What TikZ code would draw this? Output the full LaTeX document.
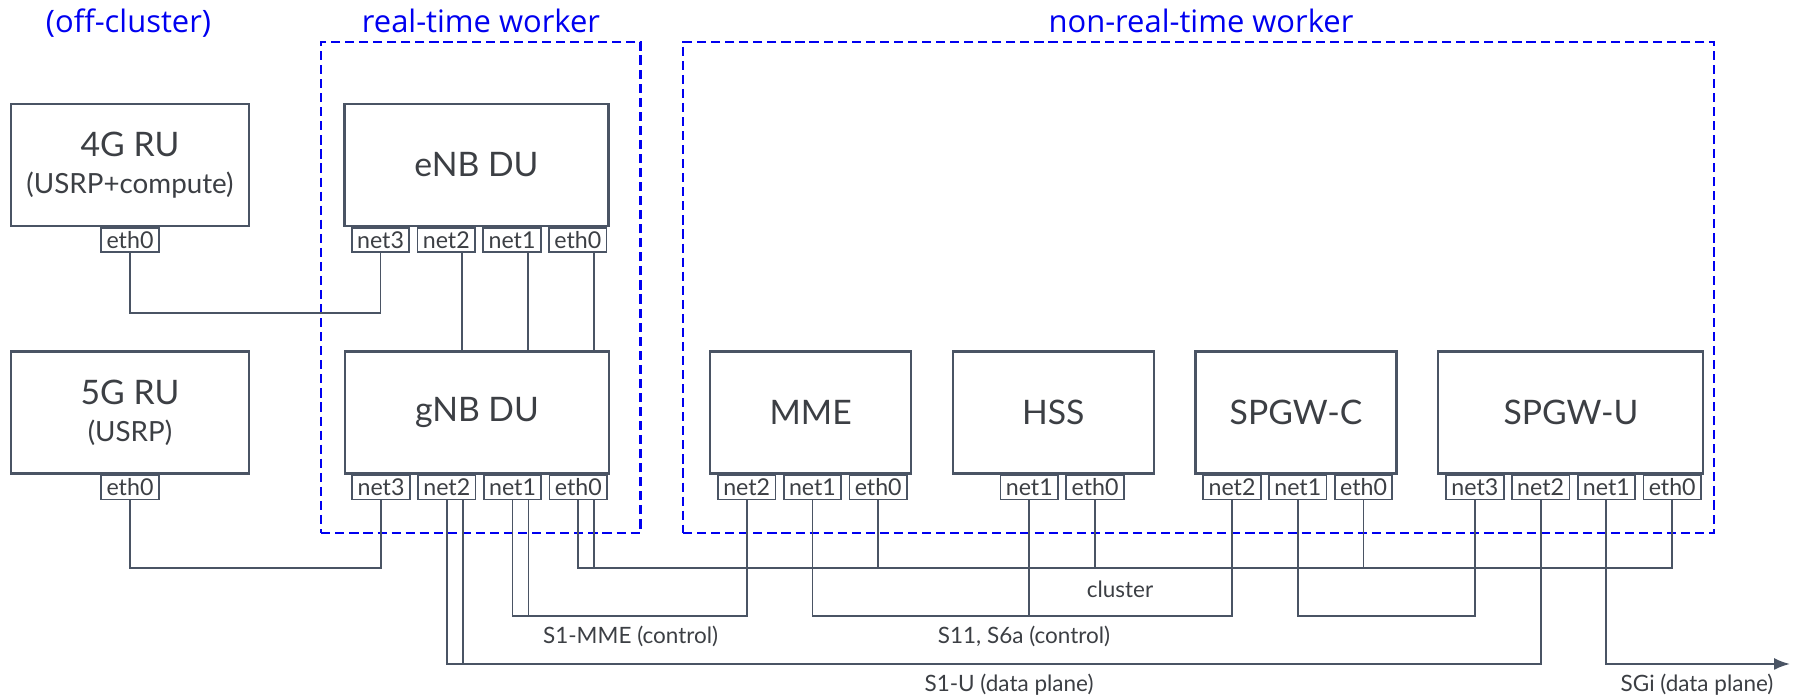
\documentclass[tikz,border=0pt]{standalone}
\usepackage{fontspec}
\setmainfont{Lato}
\newfontfamily\titlefont{Open Sans}
\usepackage{xcolor}
\usepackage{tikz}
\usetikzlibrary{positioning, arrows.meta}
\definecolor{boxline}{HTML}{4A5464}
\definecolor{boxtext}{HTML}{3C3F44}
\definecolor{grouptext}{HTML}{0000F0}

\begin{document}
\begin{tikzpicture}[x=1mm, y=-1mm,
    box/.style={draw=boxline, line width=0.6pt, fill=white, text=boxtext, minimum height=12.2mm, inner sep=0pt, align=center, font=\fontsize{9.6}{10.5}\selectfont},
    port/.style={draw=boxline, line width=0.5pt, fill=white, text=boxtext, minimum width=5.75mm, minimum height=2.4mm, inner sep=0pt, anchor=north, font=\fontsize{6.6}{8}\selectfont},
    wire/.style={draw=boxline, line width=0.55pt},
    group/.style={draw=grouptext, line width=0.6pt, dash pattern=on 2.6pt off 1.4pt, inner sep=0pt},
    grouptitle/.style={text=grouptext, anchor=base, font=\titlefont\fontsize{8.8}{10}\selectfont},
    buslabel/.style={text=boxtext, font=\fontsize{6.4}{8}\selectfont}]
                \useasboundingbox (0,0) rectangle (179.3,69.7);

                \node[group, minimum width=31.92mm, minimum height=49.1mm] (rt) at (48.09,28.72) {};
                \node[group, minimum width=103.13mm, minimum height=49.1mm] (nrt) at (119.87,28.72) {};
                \node[grouptitle] (offtitle) at (12.85,3.3) {(off-cluster)};
                \node[grouptitle] (rttitle) at (48.1,3.3) {real-time worker};
                \node[grouptitle] (nrttitle) at (120.1,3.3) {non-real-time worker};

                \node[box, minimum width=23.84mm] (ru4) at (13.0,16.5) {4G RU\\{\fontsize{7.9}{9}\selectfont(USRP+compute)}};
                \node[box, minimum width=23.84mm] (ru5) at (13.0,41.25) {5G RU\\{\fontsize{7.9}{9}\selectfont(USRP)}};
                \node[box, minimum width=26.4mm] (enb) at (47.65,16.5) {eNB DU};
                \node[box, minimum width=26.4mm] (gnb) at (47.7,41.25) {gNB DU};
                \node[box, minimum width=20.1mm] (mme) at (81.07,41.25) {MME};
                \node[box, minimum width=20.1mm] (hss) at (105.33,41.25) {HSS};
                \node[box, minimum width=20.1mm] (spgwc) at (129.6,41.25) {SPGW-C};
                \node[box, minimum width=26.5mm] (spgwu) at (157.09,41.25) {SPGW-U};

                \node[port] (ru4-eth0) at (ru4.south) {eth0};
                \node[port] (ru5-eth0) at (ru5.south) {eth0};

                \node[port] (enb-net3) at ([xshift=-9.6mm]enb.south) {net3};
                \node[port, right=0.65mm of enb-net3] (enb-net2) {net2};
                \node[port, right=0.65mm of enb-net2] (enb-net1) {net1};
                \node[port, right=0.65mm of enb-net1] (enb-eth0) {eth0};

                \node[port] (gnb-net3) at ([xshift=-9.6mm]gnb.south) {net3};
                \node[port, right=0.65mm of gnb-net3] (gnb-net2) {net2};
                \node[port, right=0.65mm of gnb-net2] (gnb-net1) {net1};
                \node[port, right=0.65mm of gnb-net1] (gnb-eth0) {eth0};

                \node[port] (mme-net2) at ([xshift=-6.4mm]mme.south) {net2};
                \node[port, right=0.65mm of mme-net2] (mme-net1) {net1};
                \node[port, right=0.65mm of mme-net1] (mme-eth0) {eth0};

                \node[port] (hss-net1) at ([xshift=-2.4mm]hss.south) {net1};
                \node[port, right=0.65mm of hss-net1] (hss-eth0) {eth0};

                \node[port] (spgwc-net2) at ([xshift=-6.4mm]spgwc.south) {net2};
                \node[port, right=0.65mm of spgwc-net2] (spgwc-net1) {net1};
                \node[port, right=0.65mm of spgwc-net1] (spgwc-eth0) {eth0};

                \node[port] (spgwu-net3) at ([xshift=-9.6mm]spgwu.south) {net3};
                \node[port, right=0.65mm of spgwu-net3] (spgwu-net2) {net2};
                \node[port, right=0.65mm of spgwu-net2] (spgwu-net1) {net1};
                \node[port, right=0.65mm of spgwu-net1] (spgwu-eth0) {eth0};

                \coordinate (lvlru4) at (0,31.27);
                \coordinate (lvlcluster) at (0,56.83);
                \coordinate (lvlctrl) at (0,61.63);
                \coordinate (lvldata) at (0,66.4);
                \coordinate (sgiend) at (179.0,66.4);

                \draw[wire] (ru4-eth0.south) -- (ru4-eth0.south |- lvlru4) -| (enb-net3.south);
                \draw[wire] (ru5-eth0.south) -- (ru5-eth0.south |- lvlcluster) -| (gnb-net3.south);

                \foreach \p in {net2, net1, eth0}
                    \draw[wire] ([xshift=1.6mm]enb-\p.south) -- ([xshift=1.6mm]enb-\p.south |- gnb.north);

                \draw[wire] (gnb-eth0.south) |- (spgwu-eth0.south |- lvlcluster) -- (spgwu-eth0.south);
                \draw[wire] ([xshift=1.6mm]gnb-eth0.south) -- ([xshift=1.6mm]gnb-eth0.south |- lvlcluster);
                \foreach \n in {mme, hss, spgwc}
                    \draw[wire] (\n-eth0.south) -- (\n-eth0.south |- lvlcluster);

                \draw[wire] (gnb-net1.south) |- (mme-net2.south |- lvlctrl) -- (mme-net2.south);
                \draw[wire] ([xshift=1.6mm]gnb-net1.south) -- ([xshift=1.6mm]gnb-net1.south |- lvlctrl);
                \draw[wire] (mme-net1.south) |- (spgwc-net2.south |- lvlctrl) -- (spgwc-net2.south);
                \draw[wire] (hss-net1.south) -- (hss-net1.south |- lvlctrl);
                \draw[wire] (spgwc-net1.south) |- (spgwu-net3.south |- lvlctrl) -- (spgwu-net3.south);

                \draw[wire] (gnb-net2.south) |- (spgwu-net2.south |- lvldata) -- (spgwu-net2.south);
                \draw[wire] ([xshift=1.6mm]gnb-net2.south) -- ([xshift=1.6mm]gnb-net2.south |- lvldata);
                \draw[wire, -{Latex[length=1.6mm, width=1.2mm]}] (spgwu-net1.south) |- (sgiend);

                \node[buslabel] (clusterlbl) at (112.0,58.9) {cluster};
                \node[buslabel] (s1mmelbl) at (63.06,63.6) {S1-MME (control)};
                \node[buslabel] (s11lbl) at (102.4,63.6) {S11, S6a (control)};
                \node[buslabel] (s1ulbl) at (100.9,68.5) {S1-U (data plane)};
                \node[buslabel] (sgilbl) at (169.7,68.5) {SGi (data plane)};
            \end{tikzpicture}
\end{document}
